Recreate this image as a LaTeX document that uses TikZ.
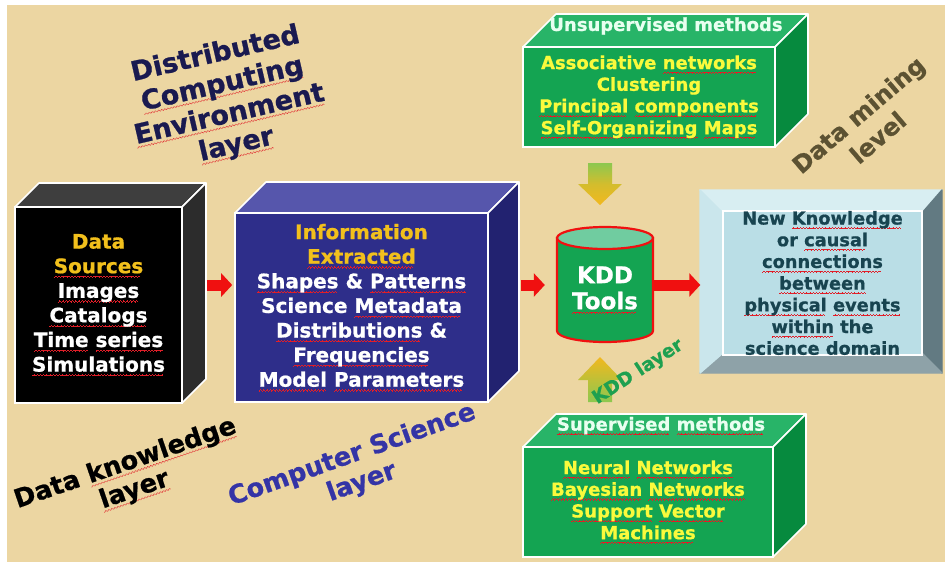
\documentclass[tikz,border=0pt]{standalone}
\usepackage{fontspec}
\setmainfont{DejaVu Sans}[BoldFeatures={FakeBold=0.8}]
\usetikzlibrary{arrows.meta,calc}

\definecolor{parch}{RGB}{236,214,162}
\definecolor{gold}{RGB}{242,192,28}
\definecolor{lemon}{RGB}{250,250,60}
\definecolor{mint}{RGB}{232,255,240}
\definecolor{blkTop}{RGB}{62,62,62}
\definecolor{blkSide}{RGB}{44,44,44}
\definecolor{bluFront}{RGB}{46,46,138}
\definecolor{bluTop}{RGB}{86,86,172}
\definecolor{bluSide}{RGB}{34,34,112}
\definecolor{grnFront}{RGB}{20,164,82}
\definecolor{grnTop}{RGB}{40,180,104}
\definecolor{grnSide}{RGB}{6,138,62}
\definecolor{cylTop}{RGB}{112,204,160}
\definecolor{bevFace}{RGB}{186,222,230}
\definecolor{bevTop}{RGB}{216,238,242}
\definecolor{bevLeft}{RGB}{202,230,236}
\definecolor{bevRight}{RGB}{98,122,130}
\definecolor{bevBottom}{RGB}{142,162,168}
\definecolor{teal}{RGB}{24,68,80}
\definecolor{navy}{RGB}{26,26,80}
\definecolor{csblue}{RGB}{52,52,166}
\definecolor{olive}{RGB}{92,82,50}
\definecolor{kddgreen}{RGB}{30,160,80}
\definecolor{arrowred}{RGB}{240,16,16}
\definecolor{arrowgreen}{RGB}{140,200,80}
\definecolor{arrowyellow}{RGB}{242,184,30}
\definecolor{squig}{RGB}{225,30,40}

% red wavy spell-check underline below a word, built from tiny rules
\newsavebox{\sqbox}
\newcommand\squnit{\hbox{\rule[-4.4pt]{0.8pt}{0.55pt}\rule[-3.8pt]{0.8pt}{0.55pt}\rule[-3.2pt]{0.8pt}{0.55pt}\rule[-3.8pt]{0.8pt}{0.55pt}}}
\newcommand\sq[1]{\sbox\sqbox{#1}\leavevmode\rlap{\hbox to\wd\sqbox{\color{squig}\leaders\squnit\hfill}}\usebox\sqbox}

% top and right faces of a box whose front face runs from (#1,#2) to (#3,#4)
\newcommand\boxfaces[7]{%
  \filldraw[#6, draw=white, line width=1.6pt, line join=round]
    (#1,#2) -- ++(#5,-#5) -- (#3+#5,#2-#5) -- (#3,#2) -- cycle;
  \filldraw[#7, draw=white, line width=1.6pt, line join=round]
    (#3,#2) -- (#3+#5,#2-#5) -- (#3+#5,#4-#5) -- (#3,#4) -- cycle;
}

\tikzset{
  front/.style={draw=white, line width=1.6pt, inner sep=0pt, align=center},
  bigtext/.style={font=\fontsize{20}{24.6}\selectfont\bfseries},
  midtext/.style={font=\fontsize{18}{21.7}\selectfont\bfseries},
  layerlabel/.style={align=center, font=\bfseries},
  redarrow/.style={arrowred, line width=11pt, -{Triangle[length=11pt,width=23pt]}},
}

\begin{document}
\begin{tikzpicture}[x=1pt,y=-1pt]
\useasboundingbox (0,0) rectangle (945,565);
\fill[white] (0,0) rectangle (945,565);
\fill[parch] (7,5) rectangle (945,562);

% data sources box
\boxfaces{15}{207}{182}{403}{24}{blkTop}{blkSide}
\node[front, fill=black, text=white, bigtext, minimum width=167pt, minimum height=196pt]
  (src) at (98.5,305) {\textcolor{gold}{Data}\\\textcolor{gold}{\sq{Sources}}\\\sq{Images}\\\sq{Catalogs}\\\sq{Time} \sq{series}\\\sq{Simulations}};

% information box
\boxfaces{235}{213}{488}{402}{31}{bluTop}{bluSide}
\node[front, fill=bluFront, text=white, bigtext, minimum width=253pt, minimum height=189pt]
  (info) at (361.5,307.5) {\textcolor{gold}{Information}\\\textcolor{gold}{\sq{Extracted}}\\\sq{Shapes} \& \sq{Patterns}\\Science \sq{Metadata}\\\sq{Distributions} \&\\\sq{Frequencies}\\\sq{Model} \sq{Parameters}};

% unsupervised methods box
\boxfaces{523}{47}{775}{147}{33}{grnTop}{grnSide}
\node[front, fill=grnFront, text=lemon, midtext, minimum width=252pt, minimum height=100pt]
  (unsup) at (649,97) {Associative \sq{networks}\\Clustering\\\sq{Principal} \sq{components}\\\sq{Self-Organizing} \sq{Maps}};
\node[text=mint, midtext] (unsuptitle) at (666,26) {Unsupervised methods};

% supervised methods box
\boxfaces{523}{447}{773}{557}{33}{grnTop}{grnSide}
\node[front, fill=grnFront, text=lemon, midtext, minimum width=250pt, minimum height=110pt]
  (sup) at (648,502) {\sq{Neural} \sq{Networks}\\\sq{Bayesian} \sq{Networks}\\\sq{Support} \sq{Vector}\\\sq{Machines}};
\node[text=mint, midtext] (suptitle) at (661,426) {\sq{Supervised} \sq{methods}};

% KDD tools cylinder
\filldraw[grnFront, draw=arrowred, line width=2.2pt]
  (557,238) -- (557,331) arc[start angle=180, end angle=0, x radius=48, y radius=11] -- (653,238) -- cycle;
\filldraw[cylTop, draw=arrowred, line width=2.2pt] (605,238) ellipse[x radius=48, y radius=11];
\node[text=white, font=\fontsize{23}{26}\selectfont\bfseries, align=center, minimum width=96pt, minimum height=104pt]
  (kdd) at (605,290) {KDD\\\sq{Tools}};

% new knowledge bevelled panel
\coordinate (bo1) at (700,190); \coordinate (bo2) at (942,190);
\coordinate (bo3) at (942,373); \coordinate (bo4) at (700,373);
\coordinate (bi1) at (723,213); \coordinate (bi2) at (922,213);
\coordinate (bi3) at (922,353); \coordinate (bi4) at (723,353);
\begin{scope}[draw=white, line width=1.4pt, line join=round]
\filldraw[bevTop] (bo1) -- (bo2) -- (bi2) -- (bi1) -- cycle;
\filldraw[bevRight] (bo2) -- (bo3) -- (bi3) -- (bi2) -- cycle;
\filldraw[bevBottom] (bo3) -- (bo4) -- (bi4) -- (bi3) -- cycle;
\filldraw[bevLeft] (bo4) -- (bo1) -- (bi1) -- (bi4) -- cycle;
\end{scope}
\node[draw=white, line width=1.4pt, fill=bevFace, inner sep=0pt, minimum width=199pt, minimum height=140pt,
      text=teal, align=center, font=\fontsize{17.8}{21.7}\selectfont\bfseries]
  (know) at (822.5,283) {New \sq{Knowledge}\\or \sq{causal}\\\sq{connections}\\\sq{between}\\\sq{physical} \sq{events}\\\sq{within} the\\science domain};

% red flow arrows, all on one row
\coordinate (flow) at (0,285);
\draw[redarrow, shorten <=24pt, shorten >=2pt] (src.east |- flow) -- (info.west |- flow);
\draw[redarrow, shorten <=32pt, shorten >=12pt] (info.east |- flow) -- (kdd.west |- flow);
\draw[redarrow, shorten >=22pt] (kdd.east |- flow) -- (know.west |- flow);

% block arrows feeding the KDD tools
\path[top color=arrowgreen, bottom color=arrowyellow, middle color=arrowyellow!70!arrowgreen]
  (588,163) -- (612,163) -- (612,184) -- (622,184) -- (600,205) -- (578,184) -- (588,184) -- cycle;
\path[top color=arrowyellow, bottom color=arrowgreen]
  (600,357) -- (622,380) -- (612,380) -- (612,402) -- (588,402) -- (588,380) -- (578,380) -- cycle;

% layer labels
\node[layerlabel, text=navy, rotate=13, font=\fontsize{27}{31}\selectfont\bfseries] (dce) at (226,100)
  {Distributed\\\sq{Computing}\\\sq{Environment}\\\sq{layer}};
\node[layerlabel, text=black, rotate=19, font=\fontsize{25.5}{28}\selectfont\bfseries] (dkl) at (130,477)
  {Data \sq{knowledge}\\\sq{layer}};
\node[layerlabel, text=csblue, rotate=19.6, font=\fontsize{25.5}{29}\selectfont\bfseries] (csl) at (357,469)
  {Computer Science\\layer};
\node[layerlabel, text=olive, rotate=40.5, font=\fontsize{24}{30}\selectfont\bfseries] (dml) at (868,126)
  {Data mining\\level};
\node[layerlabel, text=kddgreen, rotate=33, font=\fontsize{18.5}{22}\selectfont\bfseries] (kddl) at (638,372)
  {KDD layer};
\end{tikzpicture}
\end{document}
